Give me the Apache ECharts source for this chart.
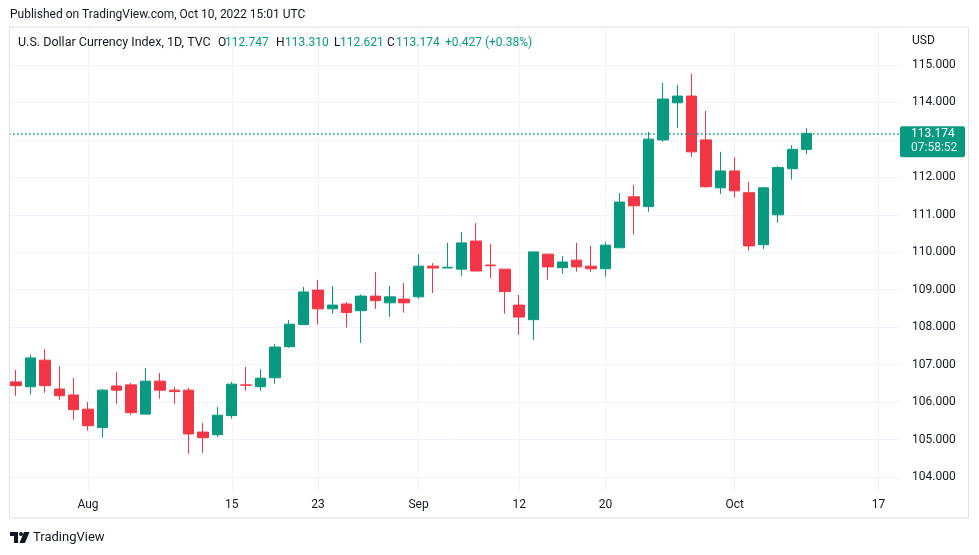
<!DOCTYPE html>
<html>
<head>
<meta charset="utf-8">
<script src="https://cdn.jsdelivr.net/npm/echarts@6.0.0/dist/echarts.min.js"></script>
<style>
  html, body { margin: 0; padding: 0; background: #fff; }
  #main { width: 979px; height: 555px; }
</style>
</head>
<body>
<div id="main"></div>
<script>
// daily candles, DXY (TVC)
var dates = [
  '2022-07-25', '2022-07-26', '2022-07-27', '2022-07-28', '2022-07-29',
  '2022-08-01', '2022-08-02', '2022-08-03', '2022-08-04', '2022-08-05',
  '2022-08-08', '2022-08-09', '2022-08-10', '2022-08-11', '2022-08-12',
  '2022-08-15', '2022-08-16', '2022-08-17', '2022-08-18', '2022-08-19',
  '2022-08-22', '2022-08-23', '2022-08-24', '2022-08-25', '2022-08-26',
  '2022-08-29', '2022-08-30', '2022-08-31',
  '2022-09-01', '2022-09-02',
  '2022-09-05', '2022-09-06', '2022-09-07', '2022-09-08', '2022-09-09',
  '2022-09-12', '2022-09-13', '2022-09-14', '2022-09-15', '2022-09-16',
  '2022-09-19', '2022-09-20', '2022-09-21', '2022-09-22', '2022-09-23',
  '2022-09-26', '2022-09-27', '2022-09-28', '2022-09-29', '2022-09-30',
  '2022-10-03', '2022-10-04', '2022-10-05', '2022-10-06', '2022-10-07',
  '2022-10-10',
  // empty days to the right
  '2022-10-11', '2022-10-12', '2022-10-13', '2022-10-14', '2022-10-17', '2022-10-18'
];

var opens = [
  106.54, 106.41, 107.12, 106.35, 106.19,
  105.81, 105.32, 106.43, 106.46, 105.68,
  106.56, 106.32, 106.32, 105.20, 105.13,
  105.64, 106.46, 106.41, 106.65, 107.48,
  108.07, 108.99, 108.49, 108.62, 108.44,
  108.83, 108.65, 108.75,
  108.81, 109.63,
  109.58, 109.55, 110.30, 109.66, 109.55,
  108.59, 108.20, 109.95, 109.59, 109.79,
  109.63, 109.56, 110.12, 111.48, 111.22,
  113.00, 113.99, 114.17, 113.00, 111.72,
  112.17, 111.59, 110.20, 111.00, 112.23,
  112.747
];
var closes = [
  106.44, 107.18, 106.44, 106.17, 105.80,
  105.37, 106.32, 106.32, 105.72, 106.56,
  106.32, 106.28, 105.15, 105.05, 105.65,
  106.48, 106.45, 106.64, 107.47, 108.08,
  108.94, 108.49, 108.59, 108.39, 108.83,
  108.71, 108.81, 108.65,
  109.63, 109.58,
  109.60, 110.25, 109.50, 109.64, 108.95,
  108.27, 110.01, 109.61, 109.74, 109.61,
  109.56, 110.19, 111.34, 111.24, 113.02,
  114.09, 114.17, 112.68, 111.75, 112.17,
  111.64, 110.17, 111.72, 112.26, 112.747,
  113.174
];
var lows = [
  106.17, 106.20, 106.25, 106.06, 105.53,
  105.24, 105.05, 105.96, 105.66, 105.68,
  106.09, 105.96, 104.62, 104.65, 105.07,
  105.56, 106.30, 106.30, 106.49, 107.45,
  108.07, 108.07, 108.36, 107.99, 107.58,
  108.49, 108.28, 108.39,
  108.76, 108.91,
  109.58, 109.37, 109.50, 109.31, 108.36,
  107.80, 107.66, 109.27, 109.43, 109.48,
  109.48, 109.35, 110.12, 110.47, 111.08,
  112.95, 113.32, 112.55, 111.72, 111.56,
  111.46, 110.04, 110.09, 110.79, 111.94,
  112.621
];
var highs = [
  106.86, 107.26, 107.42, 106.96, 106.64,
  106.00, 106.35, 106.80, 106.51, 106.91,
  106.78, 106.40, 106.38, 105.44, 105.87,
  106.54, 106.94, 106.88, 107.55, 108.19,
  109.07, 109.26, 109.10, 108.67, 108.87,
  109.47, 109.10, 109.18,
  109.95, 109.71,
  110.25, 110.54, 110.78, 110.22, 109.55,
  108.86, 110.01, 109.95, 109.90, 110.25,
  110.17, 110.27, 111.58, 111.80, 113.21,
  114.52, 114.47, 114.76, 113.77, 112.68,
  112.54, 111.88, 111.72, 112.31, 112.86,
  113.310
];

var tickDates = ['2022-08-01', '2022-08-15', '2022-08-23', '2022-09-01', '2022-09-12', '2022-09-20', '2022-10-03', '2022-10-17'];
var tickLabels = ['Aug', '15', '23', 'Sep', '12', '20', 'Oct', '17'];
var countdown = '07:58:52';

var UP = '#089981', DOWN = '#F23645', TXT = '#131722', GRIDC = '#F0F3FA';
var FONT = 'Roboto';

var candles = opens.map(function (o, i) {
  return [o, closes[i], lows[i], highs[i]];
});
var last = opens.length - 1;
var chg = closes[last] - closes[last - 1];
var chgPct = chg / closes[last - 1] * 100;

function isTick(index, value) {
  return tickDates.indexOf(value) >= 0;
}

var chart = echarts.init(document.getElementById('main'));

var option = {
  animation: false,
  textStyle: { fontFamily: FONT },
  grid: { left: 9, right: 79, top: 27.5, bottom: 40.5 },
  xAxis: [{
    type: 'category',
    data: dates,
    boundaryGap: true,
    axisLine: { show: false },
    axisTick: { show: false },
    axisLabel: { show: false },
    splitLine: {
      show: true,
      alignWithLabel: true,
      interval: isTick,
      lineStyle: { color: GRIDC, width: 1 }
    }
  }, {
    type: 'category',
    data: dates,
    position: 'bottom',
    z: 5,
    axisLine: { show: false },
    axisTick: { show: false },
    splitLine: { show: false },
    axisLabel: {
      interval: isTick,
      margin: -16,
      color: TXT,
      fontSize: 12,
      fontFamily: FONT,
      formatter: function (v) {
        var k = tickDates.indexOf(v);
        return k >= 0 ? tickLabels[k] : '';
      }
    }
  }],
  yAxis: {
    type: 'value',
    position: 'right',
    min: 103,
    max: 116,
    interval: 1,
    axisLine: { show: false },
    axisTick: { show: false },
    splitLine: { lineStyle: { color: GRIDC, width: 1 } },
    axisLabel: {
      margin: 12,
      color: TXT,
      fontSize: 12,
      fontFamily: FONT,
      formatter: function (v) {
        return (v >= 104 && v <= 115) ? v.toFixed(3) : '';
      }
    }
  },
  series: [{
    type: 'candlestick',
    data: candles,
    barWidth: '76%',
    itemStyle: {
      color: UP,
      color0: DOWN,
      borderColor: UP,
      borderColor0: DOWN,
      borderWidth: 1
    },
    markLine: {
      silent: true,
      symbol: 'none',
      label: { show: false },
      lineStyle: { color: UP, type: [1.6, 2.4], width: 1.6, opacity: 1 },
      data: [{ yAxis: closes[last] }]
    }
  }]
};

chart.setOption(option);

// price tag on the right, placed through the axis scale
var py = chart.convertToPixel({ yAxisIndex: 0 }, closes[last]);

var LF = '12px ' + FONT;
var graphics = [
  // cover for the time-scale row
  { type: 'rect', z: 1, silent: true, shape: { x: 10, y: 491, width: 958, height: 26 }, style: { fill: '#fff' } },
  // outer frame
  { type: 'rect', z: 6, silent: true, shape: { x: 9.5, y: 27, width: 959, height: 491 }, style: { fill: null, stroke: '#E0E3EB', lineWidth: 1 } },
  { type: 'text', z: 6, x: 10, y: 15, style: { text: 'Published on TradingView.com, Oct 10, 2022 15:01 UTC', fill: TXT, font: '12px ' + FONT, verticalAlign: 'middle' } },
  { type: 'text', z: 6, x: 18, y: 43, style: { text: 'U.S. Dollar Currency Index, 1D, TVC', fill: TXT, font: '12.5px ' + FONT, verticalAlign: 'middle' } },
  { type: 'text', z: 6, x: 218, y: 43, style: { text: 'O', fill: TXT, font: LF, verticalAlign: 'middle' } },
  { type: 'text', z: 6, x: 225, y: 43, style: { text: opens[last].toFixed(3), fill: UP, font: LF, verticalAlign: 'middle' } },
  { type: 'text', z: 6, x: 276, y: 43, style: { text: 'H', fill: TXT, font: LF, verticalAlign: 'middle' } },
  { type: 'text', z: 6, x: 285, y: 43, style: { text: highs[last].toFixed(3), fill: UP, font: LF, verticalAlign: 'middle' } },
  { type: 'text', z: 6, x: 334, y: 43, style: { text: 'L', fill: TXT, font: LF, verticalAlign: 'middle' } },
  { type: 'text', z: 6, x: 340, y: 43, style: { text: lows[last].toFixed(3), fill: UP, font: LF, verticalAlign: 'middle' } },
  { type: 'text', z: 6, x: 387, y: 43, style: { text: 'C', fill: TXT, font: LF, verticalAlign: 'middle' } },
  { type: 'text', z: 6, x: 396, y: 43, style: { text: closes[last].toFixed(3), fill: UP, font: LF, verticalAlign: 'middle' } },
  { type: 'text', z: 6, x: 445, y: 43, style: { text: (chg >= 0 ? '+' : '') + chg.toFixed(3) + ' (' + (chgPct >= 0 ? '+' : '') + chgPct.toFixed(2) + '%)', fill: UP, font: LF, verticalAlign: 'middle' } },
  { type: 'text', z: 6, x: 912, y: 41, style: { text: 'USD', fill: TXT, font: '12px ' + FONT, verticalAlign: 'middle' } },
  // last price tag
  { type: 'rect', z: 7, shape: { x: 900, y: py - 7, width: 65, height: 31, r: 2 }, style: { fill: UP } },
  { type: 'text', z: 8, x: 911, y: py + 0.5, style: { text: closes[last].toFixed(3), fill: '#fff', font: '12px ' + FONT, verticalAlign: 'middle' } },
  { type: 'text', z: 8, x: 911, y: py + 15, style: { text: countdown, fill: 'rgba(255,255,255,0.9)', font: '12px ' + FONT, verticalAlign: 'middle' } },
  // TradingView logo
  { type: 'rect', z: 6, shape: { x: 10, y: 532, width: 8, height: 4 }, style: { fill: TXT } },
  { type: 'rect', z: 6, shape: { x: 14, y: 532, width: 4, height: 11 }, style: { fill: TXT } },
  { type: 'circle', z: 6, shape: { cx: 21, cy: 534, r: 2 }, style: { fill: TXT } },
  { type: 'polygon', z: 6, shape: { points: [[24, 532], [29.5, 532], [25, 543], [19.5, 543]] }, style: { fill: TXT } },
  { type: 'text', z: 6, x: 33, y: 537.5, style: { text: 'TradingView', fill: TXT, font: '13px ' + FONT, verticalAlign: 'middle' } }
];

chart.setOption({ graphic: { elements: graphics } });
</script>
</body>
</html>
